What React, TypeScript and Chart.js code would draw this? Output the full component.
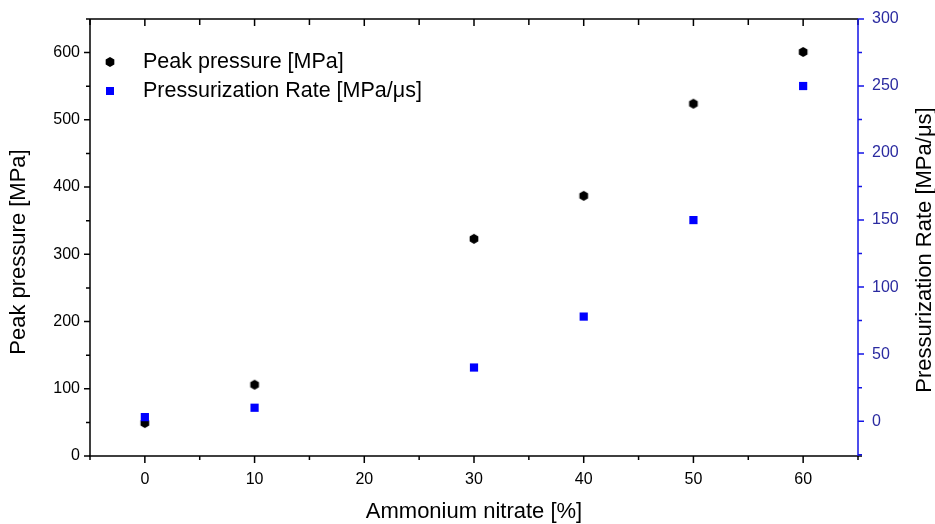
import React, { useEffect, useRef } from 'react';
import { Chart, registerables } from 'chart.js';

Chart.register(...registerables);

const ammoniumNitrate = [0, 10, 30, 40, 50, 60];
const peakPressure = [49, 106, 323, 387, 524, 601];
const pressurizationRate = [3, 10, 40, 78, 150, 250];

const xMajorTicks = [0, 10, 20, 30, 40, 50, 60];
const xMinorTicks = [-5, 5, 15, 25, 35, 45, 55, 65];
const leftMajorTicks = [0, 100, 200, 300, 400, 500, 600];
const leftMinorTicks = [50, 150, 250, 350, 450, 550, 650];
const rightMajorTicks = [0, 50, 100, 150, 200, 250, 300];
const rightMinorTicks = [-25, 25, 75, 125, 175, 225, 275];

const xTitle = 'Ammonium nitrate [%]';
const leftTitle = 'Peak pressure [MPa]';
const rightTitle = 'Pressurization Rate [MPa/μs]';
const pressureLabel = 'Peak pressure [MPa]';
const rateLabel = 'Pressurization Rate [MPa/μs]';

const FONT = "'Liberation Sans', Arial, sans-serif";
const BLUE_MARK = '#0000ff';
const BLUE_AXIS = '#1414e6';
const BLUE_TEXT = '#2a2aa0';

function makeHexagon(r: number, color: string): HTMLCanvasElement {
  const c = document.createElement('canvas');
  const s = Math.ceil(r * 2 + 2);
  c.width = s;
  c.height = s;
  const ctx = c.getContext('2d')!;
  ctx.fillStyle = color;
  ctx.beginPath();
  for (let i = 0; i < 6; i++) {
    const a = Math.PI / 2 + (i * Math.PI) / 3;
    const px = s / 2 + r * Math.cos(a);
    const py = s / 2 + r * Math.sin(a);
    if (i === 0) ctx.moveTo(px, py);
    else ctx.lineTo(px, py);
  }
  ctx.closePath();
  ctx.fill();
  return c;
}

function zeroPadding(s: any) {
  s.paddingTop = 0;
  s.paddingBottom = 0;
  s.paddingLeft = 0;
  s.paddingRight = 0;
}

const framePlugin = {
  id: 'frameAndTicks',
  afterDraw(chart: any) {
    const { ctx, chartArea } = chart;
    const { left, right, top, bottom } = chartArea;
    const xs = chart.scales.x;
    const yl = chart.scales.y;
    const yr = chart.scales.y1;
    ctx.save();
    ctx.lineWidth = 1.5;

    ctx.strokeStyle = '#000';
    ctx.beginPath();
    ctx.moveTo(left, top);
    ctx.lineTo(left, bottom);
    ctx.moveTo(left - 1, bottom);
    ctx.lineTo(right + 4, bottom);
    ctx.moveTo(left, top);
    ctx.lineTo(right, top);
    ctx.stroke();

    ctx.beginPath();
    xMajorTicks.forEach((v) => {
      const px = xs.getPixelForValue(v);
      ctx.moveTo(px, bottom);
      ctx.lineTo(px, bottom + 7);
      ctx.moveTo(px, top);
      ctx.lineTo(px, top + 7);
    });
    xMinorTicks.forEach((v) => {
      const px = xs.getPixelForValue(v);
      ctx.moveTo(px, bottom);
      ctx.lineTo(px, bottom + 4);
      ctx.moveTo(px, top);
      ctx.lineTo(px, top + 6);
    });
    leftMajorTicks.forEach((v) => {
      const py = yl.getPixelForValue(v);
      ctx.moveTo(left, py);
      ctx.lineTo(left - 6, py);
    });
    leftMinorTicks.forEach((v) => {
      const py = yl.getPixelForValue(v);
      ctx.moveTo(left, py);
      ctx.lineTo(left - 4, py);
    });
    ctx.stroke();

    ctx.strokeStyle = BLUE_AXIS;
    ctx.beginPath();
    ctx.moveTo(right, top);
    ctx.lineTo(right, bottom);
    rightMajorTicks.forEach((v) => {
      const py = yr.getPixelForValue(v);
      ctx.moveTo(right, py);
      ctx.lineTo(right + 6, py);
    });
    rightMinorTicks.forEach((v) => {
      const py = yr.getPixelForValue(v);
      ctx.moveTo(right, py);
      ctx.lineTo(right + 4, py);
    });
    ctx.stroke();

    ctx.fillStyle = '#000';
    ctx.font = `22px ${FONT}`;
    ctx.textAlign = 'center';
    ctx.textBaseline = 'middle';
    ctx.fillText(xTitle, 474, 512);

    ctx.save();
    ctx.translate(19, 252);
    ctx.rotate(-Math.PI / 2);
    ctx.fillText(leftTitle, 0, 0);
    ctx.restore();

    ctx.save();
    ctx.translate(925, 250);
    ctx.rotate(-Math.PI / 2);
    ctx.fillText(rightTitle, 0, 0);
    ctx.restore();

    const hex = makeHexagon(5, '#000');
    ctx.drawImage(hex, 110 - hex.width / 2, 62 - hex.height / 2);
    ctx.fillStyle = BLUE_MARK;
    ctx.fillRect(106, 87, 8, 8);
    ctx.fillStyle = '#000';
    ctx.textAlign = 'left';
    ctx.font = `21.5px ${FONT}`;
    ctx.fillText(pressureLabel, 143, 62);
    ctx.fillText(rateLabel, 143, 91);

    ctx.restore();
  },
};

export default function App() {
  const ref = useRef<HTMLCanvasElement | null>(null);

  useEffect(() => {
    if (!ref.current) return;
    const hexStyle = makeHexagon(5, '#000');
    const chart = new Chart(ref.current, {
      type: 'scatter',
      data: {
        datasets: [
          {
            label: pressureLabel,
            data: ammoniumNitrate.map((x, i) => ({ x, y: peakPressure[i] })),
            yAxisID: 'y',
            pointStyle: hexStyle as any,
            pointRadius: 5,
            backgroundColor: '#000',
            borderColor: '#000',
            order: 2,
          },
          {
            label: rateLabel,
            data: ammoniumNitrate.map((x, i) => ({ x, y: pressurizationRate[i] })),
            yAxisID: 'y1',
            pointStyle: 'rect',
            pointRadius: 5.8,
            borderWidth: 0,
            backgroundColor: BLUE_MARK,
            borderColor: BLUE_MARK,
            order: 1,
          },
        ],
      },
      options: {
        animation: false,
        responsive: false,
        devicePixelRatio: 1,
        layout: { padding: { top: 19, left: 0, right: 0, bottom: 0 } },
        plugins: {
          legend: { display: false },
          tooltip: { enabled: false },
        },
        scales: {
          x: {
            type: 'linear',
            position: 'bottom',
            min: -5,
            max: 65,
            grid: { display: false, drawTicks: false },
            border: { display: false },
            afterBuildTicks: (s: any) => {
              s.ticks = xMajorTicks.map((v) => ({ value: v }));
            },
            afterFit: (s: any) => {
              s.height = 68;
              zeroPadding(s);
            },
            ticks: {
              color: '#000',
              font: { family: FONT, size: 16 },
              padding: 14,
              maxRotation: 0,
              autoSkip: false,
            },
          },
          y: {
            type: 'linear',
            position: 'left',
            min: 0,
            max: 650,
            grid: { display: false, drawTicks: false },
            border: { display: false },
            afterBuildTicks: (s: any) => {
              s.ticks = leftMajorTicks.map((v) => ({ value: v }));
            },
            afterFit: (s: any) => {
              s.width = 90;
              zeroPadding(s);
            },
            ticks: {
              color: '#000',
              font: { family: FONT, size: 16 },
              padding: 10,
              autoSkip: false,
            },
          },
          y1: {
            type: 'linear',
            position: 'right',
            min: -26,
            max: 300,
            grid: { display: false, drawTicks: false },
            border: { display: false },
            afterBuildTicks: (s: any) => {
              s.ticks = rightMajorTicks.map((v) => ({ value: v }));
            },
            afterFit: (s: any) => {
              s.width = 77;
              zeroPadding(s);
            },
            ticks: {
              color: BLUE_TEXT,
              font: { family: FONT, size: 16 },
              padding: 14,
              autoSkip: false,
            },
          },
        },
      },
      plugins: [framePlugin],
    });
    return () => chart.destroy();
  }, []);

  return (
    <div style={{ position: 'absolute', left: 0, top: 0, width: 935, height: 524, background: '#fff' }}>
      <canvas ref={ref} width={935} height={524} style={{ width: 935, height: 524, display: 'block' }} />
    </div>
  );
}
